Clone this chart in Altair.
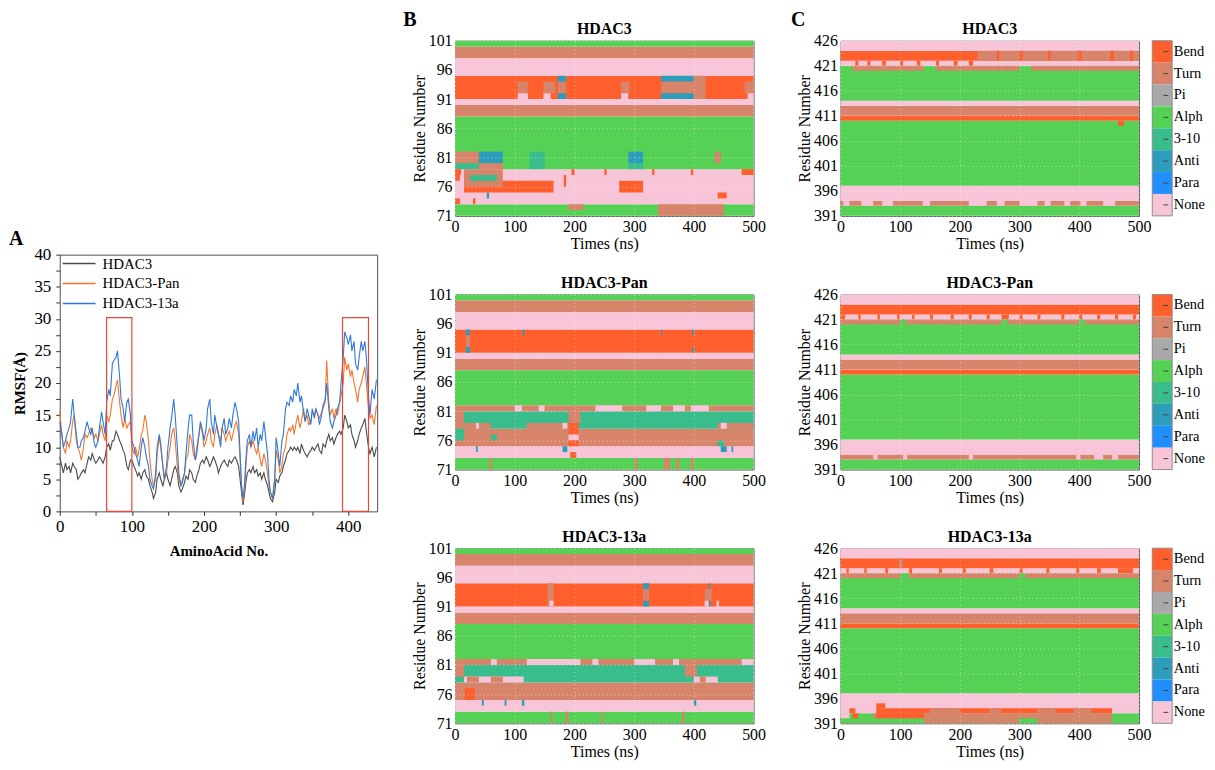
import altair as alt
import pandas as pd

FONT = "Liberation Serif"

# ---------------- Panel A : RMSF ----------------
AMINO_ACID = [
    0, 3, 5, 8, 10, 13, 15, 18, 20, 23,
    25, 28, 30, 33, 35, 38, 40, 43, 45, 48,
    50, 53, 55, 58, 60, 63, 65, 68, 70, 73,
    75, 78, 80, 83, 85, 88, 90, 93, 95, 98,
    100, 103, 105, 108, 110, 113, 115, 118, 120, 123,
    125, 128, 130, 133, 135, 138, 140, 143, 145, 148,
    150, 153, 155, 158, 160, 163, 165, 168, 170, 173,
    175, 178, 180, 183, 185, 188, 190, 193, 195, 198,
    200, 203, 205, 208, 210, 213, 215, 218, 220, 223,
    225, 228, 230, 233, 235, 238, 240, 243, 245, 248,
    250, 252, 254, 256, 258, 260, 263, 265, 268, 270,
    273, 275, 278, 280, 283, 285, 288, 290, 292, 295,
    298, 300, 303, 305, 308, 310, 313, 315, 318, 320,
    323, 325, 328, 330, 333, 335, 338, 340, 343, 345,
    348, 350, 353, 355, 358, 360, 363, 365, 368, 370,
    373, 375, 378, 380, 383, 385, 388, 390, 393, 395,
    398, 400, 403, 405, 408, 410, 413, 415, 418, 420,
    423, 425, 428, 430, 433, 436, 439,
]
RMSF_HDAC3 = [
    8.5, 7, 6, 7.5, 6.5, 7, 6, 7.5, 7, 6.5,
    5, 5.5, 6, 6.5, 6, 7.5, 8.5, 8, 9, 8,
    7.5, 8, 8.5, 8, 7.5, 8.5, 10, 10.5, 9.5, 11,
    11, 12.5, 12, 11, 10.5, 9.5, 9, 7, 6.5, 8,
    8, 7, 6.5, 5.5, 6, 5, 6, 6.5, 5.5, 5,
    4, 3, 2, 3, 5, 6, 5, 4, 5, 6,
    5, 4, 5, 6.5, 7, 6, 4, 3, 3.5, 4.5,
    5.5, 5, 6.5, 6, 5, 4.5, 5.5, 6.5, 7.5, 8,
    7.5, 8.5, 8, 7, 7.5, 8.5, 8, 7, 6, 7,
    7.5, 8, 7.5, 7, 8, 7.5, 8, 8.5, 8, 7,
    5, 3, 1, 2.5, 4.5, 6, 6.5, 6, 7, 6,
    6.5, 5.5, 6, 5, 6, 5, 4, 3, 2, 1.5,
    3, 5, 4.5, 5.5, 6, 7, 8, 9, 9.5, 10,
    9.5, 10, 9.5, 10, 9, 10.5, 9.5, 9, 8.5, 9,
    9.5, 10, 9.5, 10, 10.5, 9.5, 9, 10.5, 10, 11,
    12, 11, 11.5, 10.5, 11.5, 12, 12.5, 12, 13, 15,
    14, 13, 13.5, 12, 11, 10, 11, 12, 13, 13.5,
    14.5, 12.5, 10, 9, 10, 8.5, 10,
]
RMSF_PAN = [
    15.5, 12, 10, 9, 11, 10, 11, 14, 15, 11,
    10, 9, 8, 10, 12, 11.5, 12, 13, 12.5, 11.5,
    12, 11, 12, 13.5, 12, 11, 15, 14, 15, 17.5,
    18, 19.5, 20.5, 17, 15, 13, 14.5, 13, 13.5, 14,
    10, 9, 10, 8.5, 9.5, 12, 12.5, 15, 14, 11,
    8, 5, 4, 5, 9, 11.5, 10, 7, 5, 6,
    8, 10, 12, 13, 11, 7, 5, 4, 5, 6,
    8, 9, 12, 11, 9, 8, 10, 12, 13.5, 12,
    10, 11, 12, 13, 11, 10, 12, 13.5, 12, 11,
    13, 12, 11, 12, 12.5, 11, 12, 13.5, 14, 12,
    8, 4, 1.5, 3, 7, 10, 11, 10, 11, 10,
    9, 10, 8, 7, 9, 8, 6, 4, 3, 2,
    5, 9.5, 8, 6, 7, 9, 10, 12, 13, 12.5,
    13.5, 12, 14, 15, 13, 14, 16, 14, 15, 13.5,
    14, 15.5, 15, 16, 15, 14.5, 15.5, 16, 17, 23.5,
    17, 15, 16, 14.5, 16, 15, 17, 18, 20, 24,
    22, 23, 21, 22, 20, 19, 17, 19, 20, 21,
    22.5, 20, 16, 14.5, 15, 13.5, 16.5,
]
RMSF_13A = [
    14, 12, 10, 11, 12, 13, 14, 17.5, 15, 12,
    10, 10, 11, 11.5, 12.5, 14, 13, 12, 13, 10.5,
    10, 11, 13, 15.5, 14, 12, 17, 19, 18, 23,
    23.5, 24, 25, 21, 17.5, 16, 14, 17, 17.5, 15,
    11, 10, 9, 8, 7, 10, 11.5, 10, 8.5, 7,
    5, 4, 3.5, 6, 10, 12, 10.5, 7, 5, 7,
    10, 13, 14.5, 17.5, 15, 10, 6, 4, 4.5, 6,
    9, 13, 15, 15, 11, 8, 9, 12, 14, 12.5,
    11, 13, 16, 17.5, 14, 12, 15, 13, 12, 10,
    13, 14.5, 12, 13, 14.5, 13, 15, 17, 16, 14,
    9, 4, 2, 4, 8, 11, 12, 10, 12.5, 11,
    13, 10, 12, 11, 14, 12, 9, 5, 3, 2,
    5, 11.5, 9, 7, 11, 12, 16, 17, 16.5, 18,
    17, 19, 18, 20, 17, 18, 15.5, 14, 16, 15,
    13.5, 16, 14.5, 16, 15, 13.5, 15, 16.5, 17.5, 20,
    16, 14, 13, 14, 15, 16, 17, 20, 24, 28,
    27, 26, 27.5, 25, 26.5, 23, 22, 24, 26.5, 25,
    26.5, 24, 18, 15, 19, 17.5, 20.5,
]
SERIES = ["HDAC3", "HDAC3-Pan", "HDAC3-13a"]
SERIES_COLORS = ["#4a4a4a", "#F4742B", "#2F78DA"]
REGION_START = [65, 392]
REGION_END = [100, 428]
REGION_TOP = [30.2, 30.2]

# ---------------- Panels B / C : secondary structure ----------------
STATES = ["Bend", "Turn", "Pi", "Alpha", "3-10", "Anti", "Para", "None"]
STATE_COLORS = ["#FF5F2C", "#D8846A", "#A9A9A9", "#55D255",
                "#3ABD8C", "#2C9EBC", "#1F8EFF", "#F7C4D8"]
TIME_END = 500
TIME_TICKS = [0, 100, 200, 300, 400, 500]

# base bands: (residue_lo, residue_hi, state) over the whole run
# segments:   (residue_lo, residue_hi, t_start, t_end, state)
B_HDAC3_BANDS = [
    (71, 73, "Alpha"), (73, 79, "None"), (79, 88, "Alpha"), (88, 90, "Turn"),
    (90, 91, "None"), (91, 95, "Bend"), (95, 98, "None"), (98, 100, "Turn"),
    (100, 101, "Alpha")]
B_HDAC3_SEGS = [
    (92, 94, 105, 122, "Turn"), (91, 92, 105, 122, "None"),
    (92, 94, 148, 168, "Turn"), (91, 92, 148, 160, "None"),
    (92, 94, 172, 186, "Turn"), (94, 95, 172, 186, "Anti"), (91, 92, 172, 186, "Anti"),
    (92, 94, 278, 292, "Turn"), (91, 92, 278, 290, "None"),
    (92, 94, 345, 420, "Turn"), (94, 95, 345, 400, "Anti"), (91, 92, 345, 400, "Anti"),
    (94, 95, 400, 420, "Turn"), (91, 92, 400, 420, "Turn"),
    (92, 94, 485, 500, "Turn"), (91, 92, 490, 500, "None"),
    (80, 82, 0, 40, "Turn"), (79, 80, 0, 40, "3-10"), (80, 82, 40, 80, "Anti"),
    (79, 80, 40, 80, "Turn"), (79, 82, 125, 150, "3-10"), (80, 82, 290, 315, "Anti"),
    (79, 80, 290, 315, "3-10"), (80, 82, 435, 445, "Turn"),
    (75, 77, 15, 165, "Bend"), (76, 79, 15, 80, "Turn"), (77, 78, 25, 70, "3-10"),
    (75, 77, 275, 315, "Bend"), (76, 78, 182, 186, "Bend"),
    (78, 79, 0, 10, "Bend"), (78, 79, 480, 500, "Bend"), (77, 78, 0, 8, "Bend"),
    (73, 74, 0, 8, "Bend"), (73, 74, 30, 34, "Bend"), (74, 75, 53, 57, "Anti"),
    (78, 79, 195, 200, "Bend"), (78, 79, 250, 254, "Bend"), (78, 79, 330, 334, "Bend"),
    (78, 79, 395, 399, "Bend"), (74, 75, 440, 455, "Bend"),
    (71, 73, 340, 450, "Turn"), (72, 73, 190, 215, "Turn")]

B_PAN_BANDS = [
    (71, 73, "Alpha"), (73, 75, "None"), (75, 78, "Turn"), (78, 81, "3-10"),
    (81, 82, "Turn"), (82, 88, "Alpha"), (88, 90, "Turn"), (90, 91, "None"),
    (91, 95, "Bend"), (95, 98, "None"), (98, 100, "Turn"), (100, 101, "Alpha")]
B_PAN_SEGS = [
    (94, 95, 18, 25, "Anti"), (91, 92, 18, 25, "Anti"), (92, 94, 18, 25, "Turn"),
    (94, 95, 113, 116, "Anti"), (94, 95, 345, 347, "Anti"), (94, 95, 397, 400, "Anti"),
    (91, 92, 397, 400, "Anti"),
    (81, 82, 100, 112, "None"), (81, 82, 140, 150, "None"), (81, 82, 235, 280, "None"),
    (81, 82, 320, 345, "None"), (81, 82, 365, 385, "None"), (81, 82, 395, 425, "None"),
    (79, 81, 0, 15, "Turn"), (79, 81, 190, 210, "Turn"),
    (78, 79, 0, 60, "Turn"), (78, 79, 120, 190, "Turn"), (78, 79, 440, 500, "Turn"),
    (78, 79, 35, 40, "None"), (78, 79, 180, 188, "None"), (78, 79, 445, 455, "None"),
    (76, 78, 0, 15, "3-10"), (76, 77, 60, 70, "3-10"), (75, 76, 440, 450, "3-10"),
    (77, 79, 190, 207, "Bend"), (76, 77, 190, 207, "None"), (75, 76, 190, 207, "Bend"),
    (73, 74, 193, 203, "Bend"),
    (74, 75, 35, 38, "Anti"), (74, 75, 180, 188, "Anti"), (74, 75, 445, 455, "Anti"),
    (74, 75, 463, 466, "Anti"),
    (71, 73, 58, 62, "Turn"), (71, 73, 300, 305, "Turn"), (71, 73, 350, 360, "Turn"),
    (71, 73, 370, 375, "Turn"), (71, 73, 395, 400, "Turn")]

B_13A_BANDS = [
    (71, 73, "Alpha"), (73, 75, "None"), (75, 78, "Turn"), (78, 81, "3-10"),
    (81, 82, "Turn"), (82, 88, "Alpha"), (88, 90, "Turn"), (90, 91, "None"),
    (91, 95, "Bend"), (95, 98, "None"), (98, 100, "Turn"), (100, 101, "Alpha")]
B_13A_SEGS = [
    (91, 95, 155, 165, "Turn"), (91, 92, 158, 165, "None"),
    (94, 95, 315, 325, "Anti"), (91, 92, 315, 325, "Anti"), (92, 94, 315, 325, "Turn"),
    (92, 94, 418, 430, "Turn"), (91, 92, 418, 425, "None"), (94, 95, 425, 428, "Anti"),
    (91, 92, 425, 428, "Anti"), (91, 92, 438, 442, "None"),
    (81, 82, 60, 70, "None"), (81, 82, 120, 210, "None"), (81, 82, 230, 240, "None"),
    (81, 82, 300, 335, "None"), (81, 82, 365, 375, "None"), (81, 82, 480, 500, "None"),
    (79, 81, 0, 15, "Turn"), (79, 81, 385, 405, "Turn"),
    (78, 79, 15, 115, "None"), (78, 79, 20, 40, "Turn"), (78, 79, 60, 80, "Turn"),
    (78, 79, 400, 440, "None"), (78, 79, 410, 420, "Turn"),
    (75, 77, 16, 33, "Bend"),
    (74, 75, 45, 48, "Anti"), (74, 75, 83, 86, "Anti"), (74, 75, 112, 116, "Anti"),
    (74, 75, 400, 404, "Anti"),
    (71, 73, 160, 163, "Turn"), (71, 73, 185, 190, "Turn"), (71, 73, 245, 248, "Turn"),
    (71, 73, 380, 384, "Turn")]

C_HDAC3_BANDS = [
    (391, 393, "Alpha"), (393, 394, "Turn"), (394, 397, "None"), (397, 410, "Alpha"),
    (410, 411, "Bend"), (411, 413, "Turn"), (413, 414, "None"), (414, 421, "Alpha"),
    (421, 422, "None"), (422, 424, "Bend"), (424, 426, "None")]
C_HDAC3_SEGS = [
    (422, 424, 230, 500, "Turn"),
    (422, 424, 262, 266, "Bend"), (422, 424, 300, 305, "Bend"), (422, 424, 348, 352, "Bend"),
    (422, 424, 398, 404, "Bend"), (422, 424, 452, 458, "Bend"), (422, 424, 485, 490, "Bend"),
    (421, 422, 25, 30, "Bend"), (421, 422, 45, 50, "Bend"), (421, 422, 70, 76, "Bend"),
    (421, 422, 100, 105, "Bend"), (421, 422, 128, 134, "Bend"), (421, 422, 160, 165, "Bend"),
    (421, 422, 190, 196, "Bend"), (421, 422, 215, 222, "Bend"),
    (420, 421, 20, 140, "Turn"), (420, 421, 160, 300, "Turn"), (420, 421, 320, 500, "Turn"),
    (393, 394, 5, 15, "None"), (393, 394, 35, 55, "None"), (393, 394, 70, 88, "None"),
    (393, 394, 138, 150, "None"), (393, 394, 215, 245, "None"), (393, 394, 262, 275, "None"),
    (393, 394, 300, 330, "None"), (393, 394, 342, 352, "None"), (393, 394, 375, 385, "None"),
    (393, 394, 402, 412, "None"), (393, 394, 440, 460, "None"),
    (409, 410, 465, 475, "Bend")]

C_PAN_BANDS = list(C_HDAC3_BANDS)
C_PAN_SEGS = [
    (421, 422, 0, 8, "Bend"), (421, 422, 30, 34, "Bend"), (421, 422, 62, 66, "Bend"),
    (421, 422, 95, 99, "Bend"), (421, 422, 120, 124, "Bend"), (421, 422, 150, 155, "Bend"),
    (421, 422, 185, 190, "Bend"), (421, 422, 215, 220, "Bend"), (421, 422, 245, 250, "Bend"),
    (421, 422, 270, 282, "Bend"), (421, 422, 300, 305, "Bend"), (421, 422, 330, 335, "Bend"),
    (421, 422, 370, 375, "Bend"), (421, 422, 400, 405, "Bend"), (421, 422, 430, 435, "Bend"),
    (421, 422, 460, 465, "Bend"), (421, 422, 490, 495, "Bend"),
    (420, 421, 0, 500, "Turn"), (420, 421, 100, 110, "Alpha"), (420, 421, 270, 280, "Alpha"),
    (420, 421, 400, 410, "Alpha"),
    (393, 394, 55, 62, "None"), (393, 394, 105, 112, "None"), (393, 394, 215, 222, "None"),
    (393, 394, 395, 402, "None"), (393, 394, 425, 440, "None"), (393, 394, 455, 465, "None")]

C_13A_BANDS = [
    (391, 393, "Alpha"), (393, 397, "None"), (397, 410, "Alpha"), (410, 411, "Bend"),
    (411, 413, "Turn"), (413, 414, "None"), (414, 421, "Alpha"), (421, 422, "None"),
    (422, 424, "Bend"), (424, 426, "None")]
C_13A_SEGS = [
    (422, 424, 98, 104, "Turn"),
    (421, 422, 10, 14, "Bend"), (421, 422, 40, 44, "Bend"), (421, 422, 75, 80, "Bend"),
    (421, 422, 115, 120, "Bend"), (421, 422, 165, 170, "Bend"), (421, 422, 205, 210, "Bend"),
    (421, 422, 250, 256, "Bend"), (421, 422, 300, 305, "Bend"), (421, 422, 345, 350, "Bend"),
    (421, 422, 395, 400, "Bend"), (421, 422, 430, 436, "Bend"), (421, 422, 465, 490, "Bend"),
    (420, 421, 0, 500, "Turn"), (420, 421, 100, 115, "Alpha"), (420, 421, 300, 310, "Alpha"),
    (394, 395, 60, 75, "Bend"),
    (393, 394, 15, 25, "Bend"), (393, 394, 60, 455, "Bend"),
    (393, 394, 150, 200, "Turn"), (393, 394, 250, 270, "Turn"), (393, 394, 330, 360, "Turn"),
    (393, 394, 390, 420, "Turn"),
    (392, 393, 0, 15, "None"), (392, 393, 20, 30, "Bend"), (392, 393, 55, 455, "Turn"),
    (392, 393, 60, 140, "Bend"),
    (391, 392, 140, 300, "Turn"), (391, 392, 330, 455, "Turn")]

# ---------------- layout constants ----------------
A_W, A_H = 319, 258
H_W, H_H = 300, 176
GAP_V = 79

state_color = alt.Color("state:N", scale=alt.Scale(domain=STATES, range=STATE_COLORS),
                        legend=None)


def text_layer(label, x, y, size, align="left"):
    return alt.Chart(pd.DataFrame({"label": [label]})).mark_text(
        font=FONT, fontSize=size, fontWeight="bold", align=align,
        baseline="alphabetic", color="black"
    ).encode(x=alt.value(x), y=alt.value(y), text="label:N")


def heat_panel(bands, segs, y_lo, y_hi, title, letter=None, letter_x=-50, legend=False):
    rows = [{"lo": a, "hi": b, "t0": 0, "t1": TIME_END, "state": s} for a, b, s in bands]
    rows += [{"lo": a, "hi": b, "t0": c, "t1": d, "state": s} for a, b, c, d, s in segs]
    df = pd.DataFrame(rows)
    xaxis = alt.Axis(values=TIME_TICKS, title="Times (ns)", labelFontSize=16,
                     titleFontSize=16, titleFontWeight="normal", ticks=False, tickSize=0,
                     labelPadding=3, titlePadding=1, labelFlush=False, grid=True,
                     gridColor="white", gridDash=[1, 3], gridOpacity=0.5, zindex=1)
    yaxis = alt.Axis(values=list(range(y_lo, y_hi + 1, 5)), title="Residue Number",
                     labelFontSize=16, titleFontSize=16, titleFontWeight="normal",
                     ticks=False, tickSize=0, labelPadding=3, titleX=-36,
                     titleBaseline="middle", labelOverlap=False, grid=True,
                     gridColor="white", gridDash=[1, 3], gridOpacity=0.5, zindex=1)
    rects = alt.Chart(df).mark_rect(strokeWidth=0).encode(
        x=alt.X("t0:Q", scale=alt.Scale(domain=[0, TIME_END], nice=False, zero=False),
                axis=xaxis),
        x2="t1:Q",
        y=alt.Y("lo:Q", scale=alt.Scale(domain=[y_lo, y_hi], nice=False, zero=False),
                axis=yaxis),
        y2="hi:Q",
        color=state_color,
    )
    layers = [rects]
    if legend:
        n = len(STATES)
        leg = pd.DataFrame({"state": STATES,
                            "lo": [n - 1 - i for i in range(n)],
                            "hi": [n - i for i in range(n)]})
        leg["mid"] = leg["lo"] + 0.5
        lscale = alt.Scale(domain=[0, n], nice=False, zero=False)
        bx0, bx1 = H_W + 13.4, H_W + 33.4
        bar = alt.Chart(leg).mark_rect(strokeWidth=0).encode(
            x=alt.value(bx0), x2=alt.value(bx1),
            y=alt.Y("lo:Q", scale=lscale, axis=None), y2="hi:Q", color=state_color)
        outline = alt.Chart(pd.DataFrame({"lo": [0], "hi": [n]})).mark_rect(
            fillOpacity=0, stroke="#8c8c8c", strokeWidth=1).encode(
            x=alt.value(bx0), x2=alt.value(bx1),
            y=alt.Y("lo:Q", scale=lscale, axis=None), y2="hi:Q")
        ticks = alt.Chart(leg).mark_rule(color="#444", strokeWidth=1).encode(
            x=alt.value(H_W + 24.5), x2=alt.value(H_W + 29.5),
            y=alt.Y("mid:Q", scale=lscale, axis=None))
        labels = alt.Chart(leg).mark_text(
            font=FONT, fontSize=14.5, align="left", baseline="middle", color="black",
            limit=33, ellipsis=" ").encode(
            x=alt.value(H_W + 35), y=alt.Y("mid:Q", scale=lscale, axis=None),
            text="state:N")
        layers += [bar, outline, ticks, labels]
    layers.append(text_layer(title, H_W / 2, -6.6, 16, align="center"))
    if letter:
        layers.append(text_layer(letter, letter_x, -14.3, 20))
    ch = alt.layer(*layers)
    if legend:
        ch = ch.resolve_scale(y="independent")
    return ch.properties(width=H_W, height=H_H)


# ---------------- Panel A chart ----------------
rmsf_df = pd.concat([
    pd.DataFrame({"aa": AMINO_ACID, "rmsf": RMSF_HDAC3, "series": SERIES[0]}),
    pd.DataFrame({"aa": AMINO_ACID, "rmsf": RMSF_PAN, "series": SERIES[1]}),
    pd.DataFrame({"aa": AMINO_ACID, "rmsf": RMSF_13A, "series": SERIES[2]}),
], ignore_index=True)

a_x_axis = alt.Axis(values=list(range(0, 401, 50)),
                    labelExpr="datum.value % 100 === 0 ? datum.label : ''",
                    title="AminoAcid No.", titleFontSize=15, titleFontWeight="bold",
                    labelFontSize=17, tickSize=4, labelPadding=3, titlePadding=9,
                    labelFlush=False, labelOverlap=False, grid=False)
a_y_axis = alt.Axis(values=[v * 2.5 for v in range(17)],
                    labelExpr="datum.value % 5 === 0 ? datum.label : ''",
                    title="RMSF(Å)", titleFontSize=15, titleFontWeight="bold",
                    labelFontSize=17, tickSize=4, labelPadding=5, titleX=-40,
                    titleBaseline="middle", labelOverlap=False, grid=False)

x_scale_a = alt.Scale(domain=[0, 440], nice=False)
y_scale_a = alt.Scale(domain=[0, 40], nice=False)

lines = alt.Chart(rmsf_df).mark_line(strokeWidth=1.1).encode(
    x=alt.X("aa:Q", scale=x_scale_a, axis=a_x_axis),
    y=alt.Y("rmsf:Q", scale=y_scale_a, axis=a_y_axis),
    color=alt.Color("series:N", scale=alt.Scale(domain=SERIES, range=SERIES_COLORS),
                    legend=alt.Legend(title=None, orient="none", legendX=12, legendY=1.5,
                                      symbolType="M-3,0H3", symbolSize=121,
                                      symbolStrokeWidth=1.5, labelFont=FONT,
                                      labelFontSize=15, labelOffset=16, rowPadding=4,
                                      padding=0, labelColor="black")),
)
box_df = pd.DataFrame({"x0": REGION_START, "x1": REGION_END,
                       "y0": [0, 0], "y1": REGION_TOP})
boxes = alt.Chart(box_df).mark_rect(fillOpacity=0, stroke="#E5483C", strokeWidth=1.2).encode(
    x=alt.X("x0:Q", scale=x_scale_a, axis=a_x_axis), x2="x1:Q",
    y=alt.Y("y0:Q", scale=y_scale_a, axis=a_y_axis), y2="y1:Q")
panel_a = alt.layer(lines, boxes, text_layer("A", -51, -9.3, 20)).properties(
    width=A_W, height=A_H)

spacer = alt.Chart(pd.DataFrame({"v": [0]})).mark_point(opacity=0).properties(
    width=1, height=1, view=alt.ViewBackground(stroke="transparent"))

col_a = alt.vconcat(spacer, panel_a, spacing=214, bounds="flush").resolve_scale(
    color="independent")
col_b = alt.vconcat(
    heat_panel(B_HDAC3_BANDS, B_HDAC3_SEGS, 71, 101, "HDAC3", "B", -52),
    heat_panel(B_PAN_BANDS, B_PAN_SEGS, 71, 101, "HDAC3-Pan"),
    heat_panel(B_13A_BANDS, B_13A_SEGS, 71, 101, "HDAC3-13a"),
    spacing=GAP_V, bounds="flush")
col_c = alt.vconcat(
    heat_panel(C_HDAC3_BANDS, C_HDAC3_SEGS, 391, 426, "HDAC3", "C", -49.7, legend=True),
    heat_panel(C_PAN_BANDS, C_PAN_SEGS, 391, 426, "HDAC3-Pan", legend=True),
    heat_panel(C_13A_BANDS, C_13A_SEGS, 391, 426, "HDAC3-13a", legend=True),
    spacing=GAP_V, bounds="flush")

chart = alt.hconcat(col_a, col_b, col_c, spacing=23.3).resolve_scale(
    color="independent"
).properties(
    padding=0, background="white"
).configure(font=FONT).configure_view(
    stroke="#505050", strokeWidth=1
).configure_axis(
    labelFont=FONT, titleFont=FONT, labelColor="black", titleColor="black",
    domain=False, tickColor="#333333"
)

chart.save("out.html", embed_options={"renderer": "svg", "actions": False})
